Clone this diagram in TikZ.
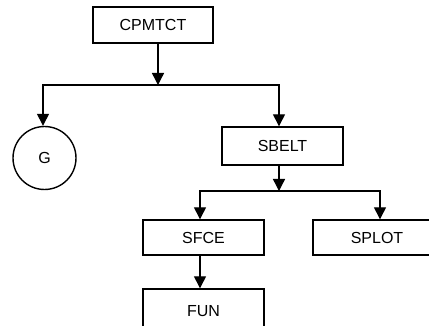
\documentclass[tikz,border=0pt]{standalone}
\usepackage{fontspec}
\setmainfont{Liberation Sans}
\usetikzlibrary{arrows.meta}
\begin{document}
\begin{tikzpicture}[x=1pt,y=-1pt,
  box/.style={draw,line width=1.4pt,inner sep=0pt,font=\fontsize{16}{19}\selectfont},
  circ/.style={draw,circle,line width=1.4pt,inner sep=0pt,minimum size=63pt,font=\fontsize{16}{19}\selectfont},
  conn/.style={line width=1.4pt,-{Triangle[width=12pt,length=12pt]}},
  conn2/.style={line width=1.4pt,{Triangle[width=12pt,length=12pt]}-{Triangle[width=12pt,length=12pt]}}]
\clip (0,0) rectangle (429,326);
\node[box,minimum width=120pt,minimum height=36pt] (cp) at (153,25) {CPMTCT};
\node[circ] (g) at (44.5,158) {G};
\node[box,minimum width=121pt,minimum height=38pt] (sb) at (282.5,146) {SBELT};
\node[box,minimum width=121pt,minimum height=35pt] (sf) at (203.5,237.5) {SFCE};
\node[box,minimum width=128pt,minimum height=35pt] (sp) at (377,237.5) {SPLOT};
\node[box,minimum width=121pt,minimum height=45pt] (fu) at (203.5,311.5) {FUN};
\coordinate (j1) at (158,85);
\coordinate (j2) at (279,191);
\draw[conn] ([xshift=5pt]cp.south) -- (j1);
\draw[conn2] ([xshift=-1.5pt]g.north) -- ([xshift=-1.5pt]g.north |- j1) -- ([xshift=-3.5pt]sb.north |- j1) -- ([xshift=-3.5pt]sb.north);
\draw[conn] ([xshift=-3.5pt]sb.south) -- (j2);
\draw[conn2] ([xshift=-3.5pt]sf.north) -- ([xshift=-3.5pt]sf.north |- j2) -- ([xshift=3pt]sp.north |- j2) -- ([xshift=3pt]sp.north);
\draw[conn] ([xshift=-3.5pt]sf.south) -- ([xshift=-3.5pt]fu.north);
\end{tikzpicture}
\end{document}
